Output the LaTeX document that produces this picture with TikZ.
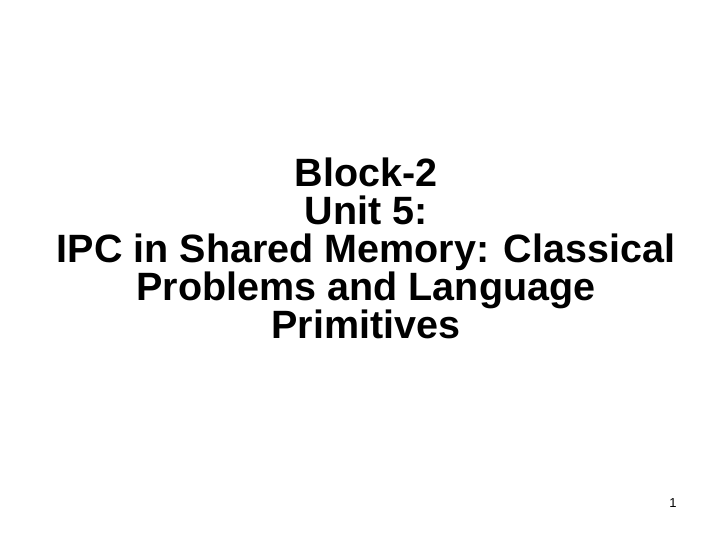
\documentclass[tikz,border=0pt]{standalone}
\usepackage{fontspec}
\setmainfont{Liberation Sans}
\begin{document}
\begin{tikzpicture}[x=1pt,y=-1pt,
  titletext/.style={font=\fontsize{39.5}{38}\selectfont\bfseries,align=center,inner sep=0pt},
  pagenum/.style={font=\fontsize{13}{15}\selectfont,inner sep=0pt}]
\path[use as bounding box,fill=white] (0,0) rectangle (720,540);
\node[titletext] (title) at (366,248) {Block-2\\Unit 5:\\IPC in Shared Memory: Classical\\Problems and Language\\Primitives};
\node[pagenum] (num) at (673,503) {1};
\end{tikzpicture}
\end{document}
